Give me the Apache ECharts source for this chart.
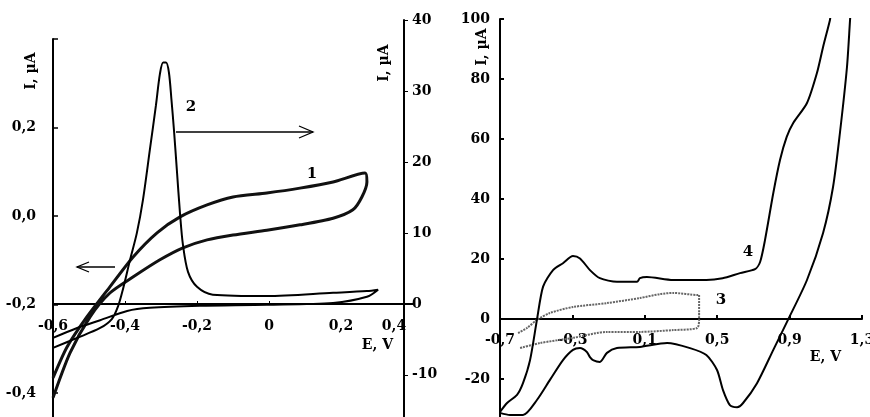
<!DOCTYPE html>
<html><head><meta charset="utf-8">
<script src="https://cdn.jsdelivr.net/npm/echarts@6/dist/echarts.min.js"></script>
<style>html,body{margin:0;padding:0;background:#fff}#c{width:870px;height:417px}</style>
</head><body><div id="c"></div>
<script>
// ---- Left panel: curve 1 (left axis, I in µA), curve 2 (right axis, I in µA) ----
const curve1 = [[-0.6,-0.366],[-0.561,-0.296],[-0.506,-0.228],[-0.442,-0.160],[-0.378,-0.093],[-0.311,-0.038],[-0.247,-0.002],[-0.172,0.025],[-0.1,0.043],[-0.006,0.052],[0.086,0.063],[0.178,0.077],[0.267,0.097],[0.272,0.077],[0.258,0.043],[0.233,0.014],[0.178,-0.005],[0.086,-0.020],[-0.006,-0.032],[-0.1,-0.043],[-0.172,-0.054],[-0.239,-0.072],[-0.303,-0.099],[-0.378,-0.138],[-0.442,-0.174],[-0.497,-0.228],[-0.553,-0.310],[-0.6,-0.411]];
const curve2 = [[-0.6,-6.2],[-0.533,-4.8],[-0.469,-3.4],[-0.436,-2.1],[-0.419,-0.3],[-0.406,2.0],[-0.386,6.2],[-0.367,10.0],[-0.35,14.7],[-0.331,21.7],[-0.314,28.0],[-0.303,32.4],[-0.294,34.0],[-0.286,34.0],[-0.278,32.6],[-0.271,28.8],[-0.264,24.5],[-0.256,18.9],[-0.247,12.6],[-0.239,8.3],[-0.225,4.5],[-0.2,2.4],[-0.156,1.3],[-0.006,1.1],[0.178,1.55],[0.272,1.8],[0.303,2.0],[0.272,1.0],[0.178,0.14],[-0.006,-0.14],[-0.192,-0.28],[-0.331,-0.56],[-0.394,-1.0],[-0.469,-2.3],[-0.533,-3.4],[-0.6,-4.8]];
// ---- Right panel: curve 3 (dotted grey), curve 4 (black) ----
const curve3 = [[-0.60,-4.7],[-0.551,-3.0],[-0.496,-0.3],[-0.424,2.0],[-0.297,4.0],[-0.109,5.3],[0.073,7.0],[0.184,8.3],[0.256,8.7],[0.394,8.0],[0.40,8.0],[0.40,-0.3],[0.389,-3.0],[0.256,-3.7],[0.073,-4.3],[-0.109,-4.3],[-0.297,-6.3],[-0.479,-8.0],[-0.59,-9.7]];
const curve4 = [[-0.7,-31],[-0.661,-28],[-0.606,-25.3],[-0.573,-21.4],[-0.534,-13.7],[-0.496,-0.3],[-0.462,10.8],[-0.407,16.3],[-0.352,18.6],[-0.297,21],[-0.258,20.2],[-0.203,16.3],[-0.148,13.6],[-0.054,12.4],[0.057,12.4],[0.073,13.6],[0.112,14],[0.256,13],[0.44,13],[0.53,13.6],[0.626,15.3],[0.709,16.6],[0.737,19],[0.764,26.3],[0.81,42],[0.847,53],[0.884,60.7],[0.92,65.3],[0.996,72],[1.051,82],[1.085,90.7],[1.123,99.7],[1.14,105],
  [1.24,105],[1.234,99.7],[1.217,84],[1.178,62],[1.14,44],[1.085,28.7],[0.996,13],[0.891,-0.3],[0.81,-10.3],[0.72,-21.4],[0.643,-28],[0.61,-29.4],[0.57,-28.7],[0.532,-23.7],[0.499,-17],[0.44,-12],[0.35,-9.7],[0.223,-8],[0.073,-9.3],[-0.054,-9.7],[-0.109,-11.3],[-0.148,-14.3],[-0.186,-13.7],[-0.203,-12.7],[-0.22,-11],[-0.258,-9.7],[-0.297,-10.3],[-0.352,-13.7],[-0.424,-20.3],[-0.496,-27],[-0.573,-32],[-0.645,-32],[-0.7,-31.3]];

const FONT = 'DejaVu Serif';
const lblStyle = {color:'#000', fontFamily:FONT, fontWeight:'bold', fontSize:14};
const comma = (v, d) => (Math.abs(v) < 1e-9 ? '0' : v.toFixed(d).replace('.', ','));
const commaY = v => (Math.abs(v) < 1e-9 ? 0 : v).toFixed(1).replace('.', ',');
const axLine = {show:true, onZero:false, lineStyle:{color:'#000', width:2}};

const chart = echarts.init(document.getElementById('c'), null, {renderer:'canvas'});
chart.setOption({
  animation:false,
  backgroundColor:'#fff',
  grid:[
    {left:53, width:360, top:39, height:442.5, outerBoundsMode:'none', containLabel:false},
    {left:53, width:360, top:20, height:425.8, outerBoundsMode:'none', containLabel:false},
    {left:500, width:362, top:19, height:420, outerBoundsMode:'none', containLabel:false}
  ],
  xAxis:[
    {gridIndex:0, type:'value', min:-0.6, max:0.4, interval:0.2, show:false},
    {gridIndex:1, type:'value', min:-0.6, max:0.4, interval:0.2, position:'bottom', offset:-141.8,
      axisLine:{show:true, onZero:false, lineStyle:{color:'#000', width:2}},
      axisTick:{show:true, inside:true, length:3, lineStyle:{color:'#000', width:1}},
      splitLine:{show:false},
      axisLabel:Object.assign({}, lblStyle, {margin:15, interval:0,
        formatter:v => Math.abs(v-0.4)<1e-6 ? '{s|0,4}' : comma(v,1),
        rich:{s:{fontFamily:FONT, fontWeight:'bold', fontSize:14, color:'#000', padding:[0,38,0,0]}}})
    },
    {gridIndex:2, type:'value', min:-0.7, max:1.3, interval:0.4, position:'bottom', offset:-120,
      axisLine:{show:true, onZero:false, lineStyle:{color:'#000', width:2}},
      axisTick:{show:true, inside:true, length:4, lineStyle:{color:'#000', width:2}},
      splitLine:{show:false},
      axisLabel:Object.assign({}, lblStyle, {margin:14, interval:0, formatter:v => comma(v,1)})
    }
  ],
  yAxis:[
    {gridIndex:0, type:'value', min:-0.6, max:0.4, interval:0.2, position:'left',
      axisLine:axLine, axisTick:{show:true, inside:true, length:5, lineStyle:{color:'#000', width:1.5}},
      splitLine:{show:false},
      axisLabel:Object.assign({}, lblStyle, {margin:17, formatter:v => (v > 0.3 || v < -0.5) ? '' : commaY(v)})
    },
    {gridIndex:1, type:'value', min:-20, max:40, interval:10, position:'right', offset:-9,
      axisLine:axLine, axisTick:{show:true, inside:false, length:4, lineStyle:{color:'#000', width:1}},
      splitLine:{show:false},
      axisLabel:Object.assign({}, lblStyle, {margin:8, formatter:v => String(v)})
    },
    {gridIndex:2, type:'value', min:-40, max:100, interval:20, position:'left',
      axisLine:axLine, axisTick:{show:true, inside:true, length:4, lineStyle:{color:'#000', width:2}},
      splitLine:{show:false},
      axisLabel:Object.assign({}, lblStyle, {margin:10, formatter:v => String(v)})
    }
  ],
  series:[
    {name:'1', type:'line', xAxisIndex:0, yAxisIndex:0, data:curve1, showSymbol:false, smooth:0.25,
      lineStyle:{color:'#111', width:3}, clip:true, z:3},
    {name:'2', type:'line', xAxisIndex:1, yAxisIndex:1, data:curve2, showSymbol:false, smooth:0.3,
      lineStyle:{color:'#000', width:2}, clip:true, z:3},
    {name:'3', type:'line', xAxisIndex:2, yAxisIndex:2, data:curve3, showSymbol:false, smooth:0.25,
      lineStyle:{color:'#666', width:2, type:[2,1]}, clip:true, z:3},
    {name:'4', type:'line', xAxisIndex:2, yAxisIndex:2, data:curve4, showSymbol:false, smooth:0.25,
      lineStyle:{color:'#000', width:2}, clip:true, z:3}
  ],
  graphic:[
    {type:'text', x:31, y:71, rotation:Math.PI/2, style:{text:'I, µA', font:'bold 14px "DejaVu Serif"', fill:'#000', align:'center', verticalAlign:'middle'}},
    {type:'text', x:384, y:63, rotation:Math.PI/2, style:{text:'I, µA', font:'bold 14px "DejaVu Serif"', fill:'#000', align:'center', verticalAlign:'middle'}},
    {type:'text', x:482, y:47, rotation:Math.PI/2, style:{text:'I, µA', font:'bold 14px "DejaVu Serif"', fill:'#000', align:'center', verticalAlign:'middle'}},
    {type:'text', x:393, y:338, style:{text:'E, V', font:'bold 14px "DejaVu Serif"', fill:'#000', align:'right', verticalAlign:'top'}},
    {type:'text', x:841, y:350, style:{text:'E, V', font:'bold 14px "DejaVu Serif"', fill:'#000', align:'right', verticalAlign:'top'}},
    {type:'text', x:312, y:174, style:{text:'1', font:'bold 15px "DejaVu Serif"', fill:'#000', align:'center', verticalAlign:'middle'}},
    {type:'text', x:191, y:107, style:{text:'2', font:'bold 15px "DejaVu Serif"', fill:'#000', align:'center', verticalAlign:'middle'}},
    {type:'text', x:721, y:300, style:{text:'3', font:'bold 15px "DejaVu Serif"', fill:'#000', align:'center', verticalAlign:'middle'}},
    {type:'text', x:748, y:252, style:{text:'4', font:'bold 15px "DejaVu Serif"', fill:'#000', align:'center', verticalAlign:'middle'}},
    {type:'polyline', shape:{points:[[176,132],[313,132]]}, style:{stroke:'#000', lineWidth:1.3, fill:null}},
    {type:'polyline', shape:{points:[[299,126],[313,132],[299,138]]}, style:{stroke:'#000', lineWidth:1.3, fill:null}},
    {type:'polyline', shape:{points:[[115,267],[77,267]]}, style:{stroke:'#000', lineWidth:1.3, fill:null}},
    {type:'polyline', shape:{points:[[89,262],[77,267],[89,272]]}, style:{stroke:'#000', lineWidth:1.3, fill:null}}
  ]
});
</script></body></html>
